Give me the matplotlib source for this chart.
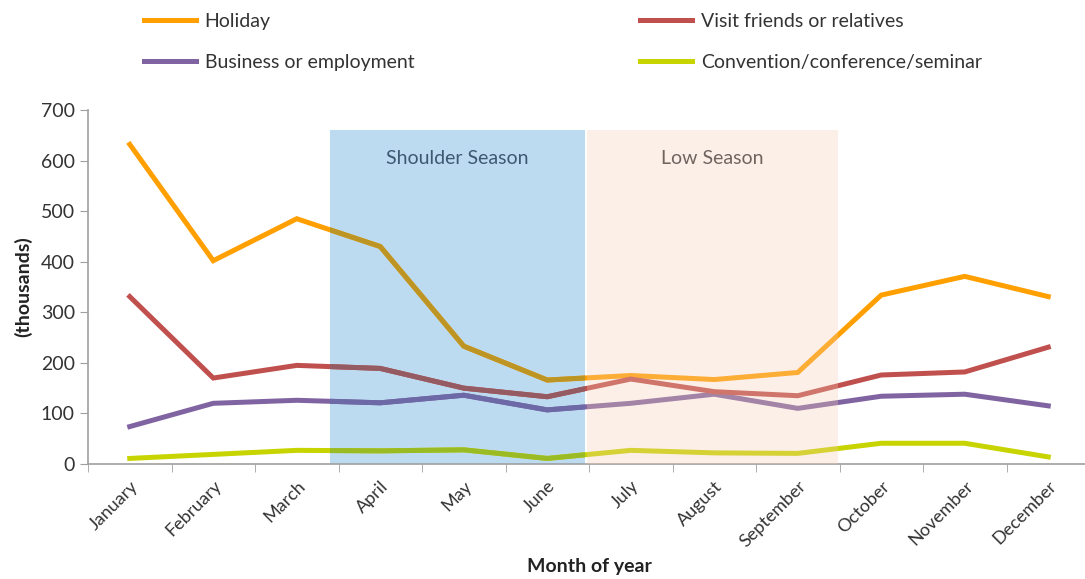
import matplotlib.pyplot as plt
import matplotlib.colors as mcolors
from matplotlib.patches import Rectangle

plt.rcParams['font.family'] = ['Lato', 'DejaVu Sans']

months = ['January', 'February', 'March', 'April', 'May', 'June', 'July',
          'August', 'September', 'October', 'November', 'December']

holiday = [632, 402, 485, 430, 233, 166, 175, 167, 181, 334, 371, 331]
visit_friends = [331, 170, 195, 189, 150, 133, 168, 143, 135, 176, 182, 231]
business = [74, 120, 126, 121, 136, 107, 120, 138, 110, 134, 138, 115]
convention = [11, 19, 27, 26, 28, 11, 27, 22, 21, 41, 41, 14]

series = [
    ('Holiday', holiday, '#ffa000'),
    ('Business or employment', business, '#8064a2'),
    ('Visit friends or relatives', visit_friends, '#c0504d'),
    ('Convention/conference/seminar', convention, '#c8d400'),
]

# season bands: (label, start, end) in category units
shoulder = ('Shoulder Season', 2.4, 5.45)
low = ('Low Season', 5.48, 8.48)
band_top = 660

blue_bg = '#bcdaf0'
peach_bg = '#f7ccb2'

x = list(range(len(months)))

fig = plt.figure(figsize=(10.85, 5.79), dpi=100)
ax = fig.add_axes([88 / 1085, 115 / 579, 1002 / 1085, 354 / 579])


def tint(color, bg, mix=0.15):
    # multiply the line colour by the band colour
    c = mcolors.to_rgb(color)
    b = mcolors.to_rgb(bg)
    m = [ci * bi for ci, bi in zip(c, b)]
    return [(1 - mix) * mi + mix * bi for mi, bi in zip(m, b)]


blue_rect = Rectangle((shoulder[1], 0), shoulder[2] - shoulder[1], band_top,
                      facecolor=blue_bg, edgecolor='none', zorder=1)
ax.add_patch(blue_rect)

handles = []
for label, vals, color in series:
    ln, = ax.plot(x, vals, color=color, lw=3.6, solid_joinstyle='miter',
                  label=label, zorder=2)
    handles.append(ln)
    over, = ax.plot(x, vals, color=tint(color, blue_bg), lw=3.6,
                    solid_joinstyle='miter', zorder=3)
    over.set_clip_path(blue_rect)

ax.add_patch(Rectangle((low[1], 0), low[2] - low[1], band_top,
                       facecolor=peach_bg, edgecolor='none', alpha=0.3,
                       zorder=4))

ax.text((shoulder[1] + shoulder[2]) / 2, 605, shoulder[0], ha='center',
        va='center', fontsize=14, color='#3d5873', zorder=5)
ax.text((low[1] + low[2]) / 2, 605, low[0], ha='center', va='center',
        fontsize=14, color='#6e6460', zorder=5)

ax.set_xlim(-0.5, 11.5)
ax.set_ylim(0, 700)
ax.set_yticks(range(0, 701, 100))
ax.set_xticks(x)
ax.set_xticklabels(months, rotation=45, ha='right', rotation_mode='anchor')
ax.set_xticks([i - 0.5 for i in range(13)], minor=True)
ax.tick_params(axis='x', which='major', length=0, pad=10, labelsize=13,
               labelcolor='#333333')
ax.tick_params(axis='x', which='minor', length=6, color='#a0a0a0')
ax.tick_params(axis='y', length=6, color='#a0a0a0', labelsize=14,
               labelcolor='#333333')

for side in ['top', 'right']:
    ax.spines[side].set_visible(False)
for side in ['left', 'bottom']:
    ax.spines[side].set_color('#a0a0a0')
    ax.spines[side].set_linewidth(1.2)

ax.set_ylabel('(thousands)', fontsize=14, fontweight='bold',
              color='#222222', labelpad=6)
ax.set_xlabel('Month of year', fontsize=14, fontweight='bold',
              color='#222222', labelpad=6)

fig.legend(handles=handles, loc='upper left', ncol=2, frameon=False,
           bbox_to_anchor=(126 / 1085, 1.008), fontsize=14,
           handlelength=2.7, handletextpad=0.45, columnspacing=11.6,
           labelspacing=1.25, labelcolor='#333333')

fig.savefig('out.png', dpi=100)
